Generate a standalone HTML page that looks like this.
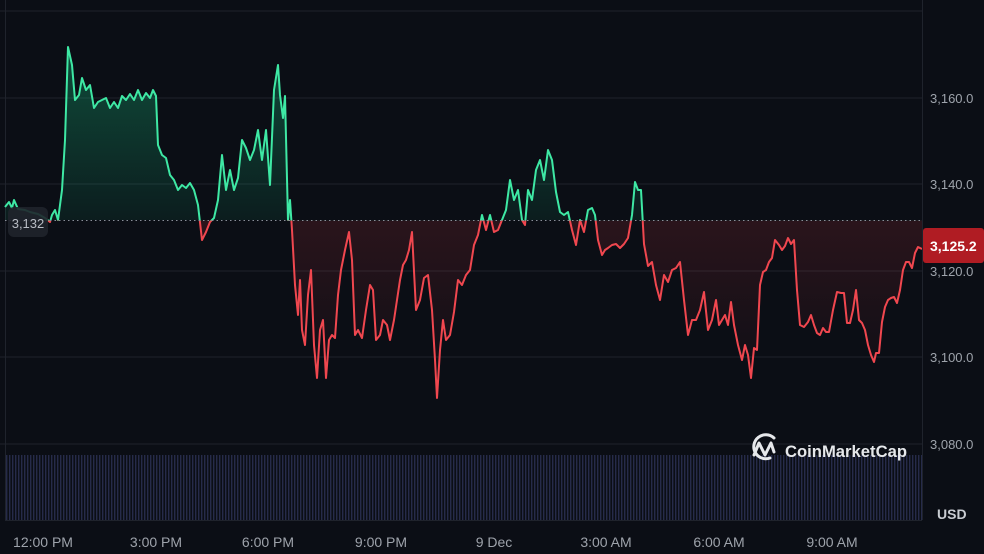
<!DOCTYPE html>
<html><head><meta charset="utf-8"><style>
html,body{margin:0;padding:0;background:#0b0e15;}
svg{display:block;font-family:"Liberation Sans",sans-serif;}
</style></head><body>
<svg width="984" height="554" viewBox="0 0 984 554" xmlns="http://www.w3.org/2000/svg">
<defs>
<linearGradient id="gg" x1="0" y1="40" x2="0" y2="220" gradientUnits="userSpaceOnUse">
<stop offset="0" stop-color="#16c784" stop-opacity="0.35"/><stop offset="1" stop-color="#16c784" stop-opacity="0.08"/></linearGradient>
<linearGradient id="rg" x1="0" y1="220" x2="0" y2="400" gradientUnits="userSpaceOnUse">
<stop offset="0" stop-color="#ea3943" stop-opacity="0.14"/><stop offset="1" stop-color="#ea3943" stop-opacity="0.0"/></linearGradient>
<clipPath id="top"><rect x="0" y="0" width="922" height="220.5"/></clipPath>
<clipPath id="bot"><rect x="0" y="220.5" width="922" height="330"/></clipPath>
<pattern id="vol" width="3" height="100" patternUnits="userSpaceOnUse"><rect x="0" y="0" width="1.4" height="100" fill="#262b4a"/></pattern>
<polygon id="area" points="5,220 5,207 9,202 12,208 14,200 18,209 25,210 30,212 38,214 45,218 50,222 52,215 55,210 58,220 62,190 65,140 68,47 72,65 75,100 79,95 82,78 86,90 90,85 94,108 98,102 102,100 106,98 110,108 114,102 118,108 122,96 126,100 130,94 134,100 138,90 142,100 146,93 150,98 153,90 156,96 158,145 162,155 166,158 170,175 174,180 178,190 182,185 186,188 190,183 194,190 198,205 202,240 206,232 210,222 214,218 218,200 222,155 226,190 230,170 234,190 238,178 242,140 246,148 250,160 254,150 258,130 262,160 266,130 270,185 274,90 278,65 280,95 283,118 285,96 288,220 290,200 292,230 295,285 298,315 300,280 302,330 305,345 308,295 311,270 314,345 317,378 320,330 323,320 326,378 329,340 332,335 335,338 338,295 341,270 345,250 349,232 352,260 355,335 358,330 362,338 366,310 370,285 373,290 376,340 380,335 383,320 387,325 390,340 394,320 397,300 400,280 403,265 406,260 409,250 412,232 416,310 420,300 424,278 428,275 432,310 435,360 437,398 440,350 443,320 446,340 450,335 454,312 458,280 462,285 466,275 470,270 474,245 478,235 482,215 486,230 490,215 494,232 498,230 502,220 506,210 510,180 514,200 518,190 522,220 525,225 528,190 532,200 536,170 540,160 544,180 548,150 552,160 556,192 560,212 564,215 568,212 572,230 576,245 580,220 584,232 588,210 592,208 595,215 598,240 602,255 605,250 608,248 612,245 616,244 620,248 624,244 628,238 632,215 635,182 638,190 641,190 644,244 648,266 652,262 656,285 660,300 664,275 668,282 672,270 676,268 680,262 684,300 688,335 692,320 696,320 700,310 704,292 708,330 712,320 716,300 719,325 722,320 725,315 728,325 731,302 734,325 738,345 742,360 745,345 748,355 751,378 754,348 757,350 760,285 763,272 766,270 769,262 772,258 775,240 779,245 782,250 785,246 788,238 791,244 794,240 797,290 800,325 804,327 808,322 811,315 814,325 817,333 820,335 823,328 826,332 829,332 833,310 837,292 841,293 844,293 847,323 850,323 853,310 856,290 859,320 862,323 865,330 868,345 871,355 874,362 876,353 879,353 882,322 885,307 888,300 891,298 894,297 897,303 900,290 903,270 906,262 909,262 912,268 915,253 918,247 922,249 922,220"/>
<polyline id="ln" fill="none" stroke-width="2" stroke-linejoin="round" points="5,207 9,202 12,208 14,200 18,209 25,210 30,212 38,214 45,218 50,222 52,215 55,210 58,220 62,190 65,140 68,47 72,65 75,100 79,95 82,78 86,90 90,85 94,108 98,102 102,100 106,98 110,108 114,102 118,108 122,96 126,100 130,94 134,100 138,90 142,100 146,93 150,98 153,90 156,96 158,145 162,155 166,158 170,175 174,180 178,190 182,185 186,188 190,183 194,190 198,205 202,240 206,232 210,222 214,218 218,200 222,155 226,190 230,170 234,190 238,178 242,140 246,148 250,160 254,150 258,130 262,160 266,130 270,185 274,90 278,65 280,95 283,118 285,96 288,220 290,200 292,230 295,285 298,315 300,280 302,330 305,345 308,295 311,270 314,345 317,378 320,330 323,320 326,378 329,340 332,335 335,338 338,295 341,270 345,250 349,232 352,260 355,335 358,330 362,338 366,310 370,285 373,290 376,340 380,335 383,320 387,325 390,340 394,320 397,300 400,280 403,265 406,260 409,250 412,232 416,310 420,300 424,278 428,275 432,310 435,360 437,398 440,350 443,320 446,340 450,335 454,312 458,280 462,285 466,275 470,270 474,245 478,235 482,215 486,230 490,215 494,232 498,230 502,220 506,210 510,180 514,200 518,190 522,220 525,225 528,190 532,200 536,170 540,160 544,180 548,150 552,160 556,192 560,212 564,215 568,212 572,230 576,245 580,220 584,232 588,210 592,208 595,215 598,240 602,255 605,250 608,248 612,245 616,244 620,248 624,244 628,238 632,215 635,182 638,190 641,190 644,244 648,266 652,262 656,285 660,300 664,275 668,282 672,270 676,268 680,262 684,300 688,335 692,320 696,320 700,310 704,292 708,330 712,320 716,300 719,325 722,320 725,315 728,325 731,302 734,325 738,345 742,360 745,345 748,355 751,378 754,348 757,350 760,285 763,272 766,270 769,262 772,258 775,240 779,245 782,250 785,246 788,238 791,244 794,240 797,290 800,325 804,327 808,322 811,315 814,325 817,333 820,335 823,328 826,332 829,332 833,310 837,292 841,293 844,293 847,323 850,323 853,310 856,290 859,320 862,323 865,330 868,345 871,355 874,362 876,353 879,353 882,322 885,307 888,300 891,298 894,297 897,303 900,290 903,270 906,262 909,262 912,268 915,253 918,247 922,249"/>
</defs>
<rect width="984" height="554" fill="#0b0e15"/>
<g stroke="#1f232c" stroke-width="1">
<line x1="0" y1="11" x2="922" y2="11"/>
<line x1="0" y1="98" x2="922" y2="98"/>
<line x1="0" y1="184" x2="922" y2="184"/>
<line x1="0" y1="271" x2="922" y2="271"/>
<line x1="0" y1="357" x2="922" y2="357"/>
<line x1="0" y1="444" x2="922" y2="444"/>
<line x1="5.5" y1="0" x2="5.5" y2="520"/>
<line x1="922.5" y1="0" x2="922.5" y2="520"/>
<line x1="5" y1="520.5" x2="922" y2="520.5"/>
</g>
<rect x="6" y="455" width="916" height="65" fill="url(#vol)"/>
<use href="#area" fill="url(#gg)" clip-path="url(#top)"/>
<use href="#area" fill="url(#rg)" clip-path="url(#bot)"/>
<use href="#ln" stroke="#3ee8a4" clip-path="url(#top)"/>
<use href="#ln" stroke="#f0474f" clip-path="url(#bot)"/>
<line x1="5" y1="220.5" x2="922" y2="220.5" stroke="#8a8f99" stroke-width="1" stroke-dasharray="1.5,3"/>
<rect x="8" y="207" width="40" height="30" rx="6" fill="#1f232b" opacity="0.9"/>
<text x="28" y="228" fill="#b8bcc4" font-size="13" text-anchor="middle">3,132</text>
<g fill="#9ea3ab" font-size="13">
<text x="930" y="103">3,160.0</text>
<text x="930" y="189">3,140.0</text>
<text x="930" y="276">3,120.0</text>
<text x="930" y="362">3,100.0</text>
<text x="930" y="449">3,080.0</text>
</g>
<rect x="923" y="228" width="61" height="35" rx="3" fill="#b01c23"/>
<text x="930" y="251" fill="#ffffff" font-size="14" font-weight="bold">3,125.2</text>
<text x="937" y="519" fill="#c9ccd2" font-size="14" font-weight="bold">USD</text>
<g fill="#9ea3ab" font-size="14" text-anchor="middle">
<text x="43" y="547">12:00 PM</text>
<text x="156" y="547">3:00 PM</text>
<text x="268" y="547">6:00 PM</text>
<text x="381" y="547">9:00 PM</text>
<text x="494" y="547">9 Dec</text>
<text x="606" y="547">3:00 AM</text>
<text x="719" y="547">6:00 AM</text>
<text x="832" y="547">9:00 AM</text>
</g>
<g fill="none" stroke="#e6e8eb" stroke-width="3" stroke-linecap="round" stroke-linejoin="round">
<path d="M774,438 A12,12 0 1 0 770,458"/>
<path d="M754,455 L759,443 L765,455 L771,443 L774,452"/>
</g>
<text x="785" y="457" fill="#e6e8eb" font-size="17" font-weight="bold" textLength="122" lengthAdjust="spacingAndGlyphs">CoinMarketCap</text>
</svg>
</body></html>
